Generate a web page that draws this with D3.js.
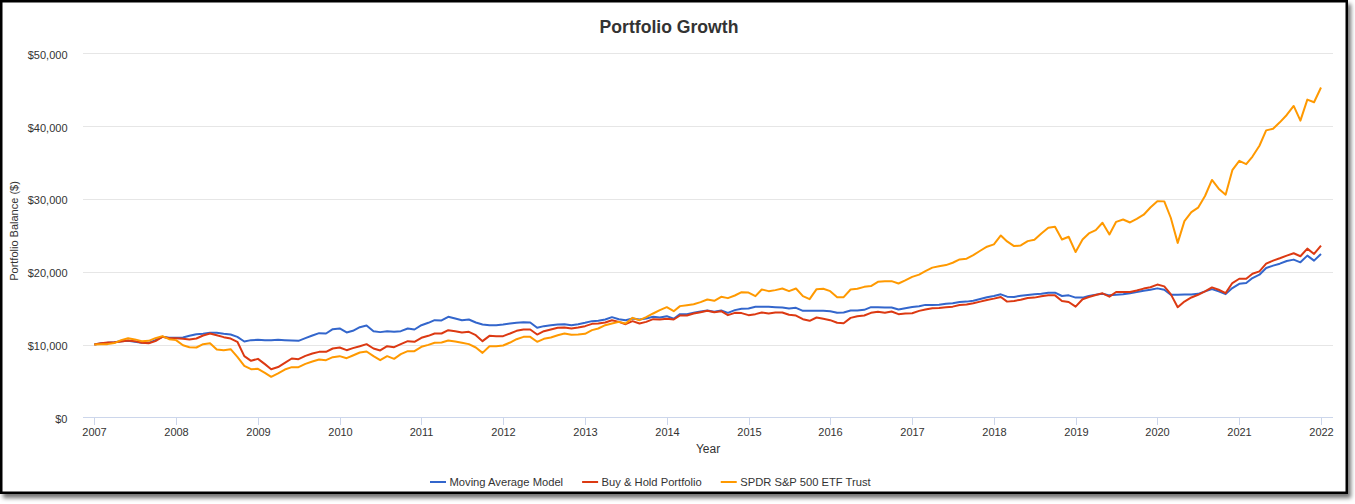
<!DOCTYPE html>
<html>
<head>
<meta charset="utf-8">
<script src="https://cdn.jsdelivr.net/npm/d3@7"></script>
<style>
  html, body { margin: 0; padding: 0; background: #ffffff; }
  svg { display: block; font-family: "Liberation Sans", Arial, sans-serif; }
</style>
</head>
<body>
<svg id="chart" width="1355" height="504"></svg>
<script>
// ---------- DATA ----------
const startDate = new Date(2007, 0, 1);
const endDate = new Date(2022, 0, 1);
const seriesNames = ["Moving Average Model", "Buy & Hold Portfolio", "SPDR S&P 500 ETF Trust"];
const seriesColors = ["#3366cc", "#dc3912", "#ff9900"];
const yTicks = [0, 10000, 20000, 30000, 40000, 50000];
const xTickYears = [2007, 2008, 2009, 2010, 2011, 2012, 2013, 2014, 2015, 2016, 2017, 2018, 2019, 2020, 2021, 2022];

// monthly values, Jan 2007 .. Jan 2022
const movingAverage = [
  10000, 10180, 10230, 10320, 10460, 10500, 10370, 10230, 10230, 10600, 11050, 10920, 10920,
  10960, 11190, 11420, 11470, 11600, 11600, 11470, 11370, 11050, 10410, 10600, 10640,
  10600, 10600, 10640, 10600, 10550, 10500, 10870, 11240, 11560, 11510, 12110, 12200,
  11650, 11880, 12380, 12610, 11830, 11700, 11830, 11740, 11830, 12200, 12060, 12650,
  12980, 13340, 13300, 13800, 13570, 13340, 13430, 13020, 12750, 12650, 12650, 12750,
  12890, 12980, 13070, 13020, 12290, 12520, 12650, 12750, 12790, 12650, 12790, 12980,
  13210, 13250, 13430, 13760, 13480, 13340, 13570, 13430, 13570, 13800, 13710, 13890,
  13530, 14170, 14170, 14350, 14530, 14670, 14490, 14670, 14350, 14720, 14900, 14950,
  15180, 15180, 15180, 15130, 15080, 14950, 15040, 14630, 14630, 14630, 14630, 14580,
  14350, 14400, 14670, 14670, 14760, 15130, 15130, 15080, 15080, 14810, 14980, 15140,
  15250, 15440, 15430, 15450, 15610, 15660, 15840, 15890, 16020, 16250, 16480, 16660,
  16890, 16570, 16530, 16710, 16800, 16890, 16980, 17120, 17120, 16660, 16750, 16440,
  16440, 16660, 16850, 16980, 16750, 16850, 16890, 17040, 17200, 17390, 17520, 17710,
  17520, 16830, 16830, 16870, 16870, 16960, 17290, 17610, 17290, 16920, 17750, 18340,
  18440, 19130, 19590, 20510, 20830, 21100, 21470, 21660, 21290, 22210, 21520, 22440
];
const buyHold = [
  10000, 10180, 10270, 10320, 10410, 10550, 10460, 10230, 10180, 10460, 11050, 10870, 10870,
  10780, 10690, 10820, 11240, 11510, 11280, 11010, 10820, 10370, 8400, 7760, 8030,
  7300, 6610, 6900, 7480, 8080, 7990, 8440, 8760, 8990, 8990, 9450, 9590,
  9220, 9500, 9770, 10050, 9450, 9180, 9770, 9630, 10050, 10460, 10370, 10920,
  11190, 11510, 11510, 11970, 11830, 11650, 11740, 11280, 10460, 11190, 11150, 11150,
  11510, 11880, 12060, 12060, 11370, 11830, 12060, 12290, 12340, 12200, 12340, 12520,
  12840, 12890, 13020, 13340, 13110, 12790, 13210, 12890, 13110, 13480, 13450, 13530,
  13430, 13980, 13980, 14260, 14440, 14630, 14440, 14580, 14030, 14350, 14310, 14030,
  14170, 14400, 14260, 14400, 14400, 14080, 13980, 13480, 13250, 13710, 13530, 13340,
  12980, 12930, 13660, 13890, 13980, 14350, 14490, 14350, 14530, 14170, 14250, 14300,
  14620, 14820, 14980, 15020, 15110, 15200, 15430, 15480, 15660, 15890, 16120, 16300,
  16530, 15890, 15980, 16160, 16390, 16440, 16620, 16750, 16750, 15980, 15840, 15200,
  16210, 16530, 16800, 17030, 16570, 17210, 17210, 17200, 17410, 17680, 17870, 18230,
  17980, 16920, 15120, 15900, 16460, 16830, 17290, 17840, 17520, 17060, 18440, 19030,
  19030, 19720, 20050, 21100, 21520, 21840, 22210, 22530, 22120, 23170, 22440, 23590
];
const spdr = [
  10000, 10050, 10050, 10200, 10600, 10870, 10700, 10460, 10500, 10870, 11150, 10730, 10600,
  9900, 9630, 9590, 10050, 10180, 9310, 9220, 9360, 8300, 7070, 6610, 6660,
  6110, 5560, 6020, 6560, 6890, 6890, 7340, 7660, 7940, 7850, 8260, 8400,
  8120, 8490, 8900, 9040, 8400, 7850, 8400, 8030, 8670, 9080, 9080, 9680,
  9950, 10230, 10270, 10550, 10410, 10230, 10050, 9590, 8850, 9770, 9770, 9860,
  10270, 10730, 11050, 11050, 10370, 10780, 10960, 11280, 11510, 11330, 11370, 11470,
  11970, 12200, 12650, 12890, 13110, 12890, 13660, 13340, 13750, 14260, 14720, 15130,
  14580, 15270, 15400, 15540, 15820, 16180, 16000, 16550, 16370, 16730, 17190, 17140,
  16640, 17560, 17330, 17470, 17690, 17330, 17690, 16640, 16230, 17600, 17650, 17330,
  16500, 16500, 17560, 17650, 17920, 18020, 18610, 18700, 18700, 18380, 18800, 19290,
  19600, 20090, 20560, 20740, 20910, 21230, 21690, 21780, 22290, 22880, 23430, 23750,
  24980, 24160, 23520, 23610, 24200, 24390, 25260, 26030, 26170, 24430, 24800, 22700,
  24430, 25260, 25710, 26720, 25110, 26850, 27170, 26760, 27260, 27830, 28820, 29670,
  29660, 27410, 23960, 26950, 28190, 28790, 30400, 32600, 31410, 30580, 33940, 35230,
  34770, 35820, 37300, 39410, 39640, 40520, 41530, 42770, 40750, 43640, 43280, 45300
];
const allSeries = [movingAverage, buyHold, spdr];

// ---------- CHART ----------
const svg = d3.select("#chart");
const months = d3.timeMonth.range(startDate, d3.timeMonth.offset(endDate, 1));

// frame with shadow
const defs = svg.append("defs");
const f = defs.append("filter").attr("id", "shadow").attr("x", "-5%").attr("y", "-5%").attr("width", "110%").attr("height", "115%");
f.append("feDropShadow").attr("dx", 3).attr("dy", 4).attr("stdDeviation", 2.2)
  .attr("flood-color", "#000").attr("flood-opacity", 0.55);
svg.append("rect").attr("x", 1.25).attr("y", 1.25).attr("width", 1345.5).attr("height", 491.5)
  .attr("fill", "#fff").attr("stroke", "#000").attr("stroke-width", 2.5).attr("filter", "url(#shadow)");

const x = d3.scaleTime().domain([startDate, endDate]).range([94.3, 1321]);
const y = d3.scaleLinear().domain([0, 50000]).range([417.3, 53.3]);
const plotLeft = 83, plotRight = 1333;

// gridlines
svg.append("g").selectAll("line").data(yTicks.filter(d => d > 0)).join("line")
  .attr("x1", plotLeft).attr("x2", plotRight)
  .attr("y1", d => Math.round(y(d)) + 0.5).attr("y2", d => Math.round(y(d)) + 0.5)
  .attr("stroke", "#e6e6e6").attr("stroke-width", 1);

// y labels
const fmt = d3.format("$,");
svg.append("g").selectAll("text").data(yTicks).join("text")
  .attr("x", 67.5).attr("y", d => y(d) + 5.5)
  .attr("text-anchor", "end").attr("font-size", 11).attr("fill", "#333")
  .text(d => fmt(d));

// x axis line
svg.append("line").attr("x1", plotLeft).attr("x2", plotRight)
  .attr("y1", 417.5).attr("y2", 417.5).attr("stroke", "#ccd6eb").attr("stroke-width", 1);

// x ticks
const xt = svg.append("g").selectAll("g").data(xTickYears).join("g")
  .attr("transform", d => `translate(${Math.round(x(new Date(d, 0, 1))) + 0.5},0)`);
xt.append("line").attr("y1", 417).attr("y2", 425).attr("stroke", "#ccd6eb");
xt.append("text").attr("y", 436).attr("text-anchor", "middle")
  .attr("font-size", 11).attr("fill", "#333").text(d => d);

// axis titles
svg.append("text").attr("x", 708).attr("y", 453).attr("text-anchor", "middle")
  .attr("font-size", 12).attr("fill", "#333").text("Year");
svg.append("text").attr("transform", "translate(18,231) rotate(-90)")
  .attr("text-anchor", "middle").attr("font-size", 11).attr("fill", "#333")
  .text("Portfolio Balance ($)");

// title
svg.append("text").attr("x", 669).attr("y", 32.5).attr("text-anchor", "middle")
  .attr("font-size", 17.6).attr("font-weight", "bold").attr("fill", "#333")
  .text("Portfolio Growth");

// lines
const line = d3.line().x((d, i) => x(months[i])).y(d => y(d));
svg.append("g").selectAll("path").data(allSeries).join("path")
  .attr("d", d => line(d))
  .attr("fill", "none")
  .attr("stroke", (d, i) => seriesColors[i])
  .attr("stroke-width", 2)
  .attr("stroke-linejoin", "round");

// legend
const legend = svg.append("g");
let lx = 430;
seriesNames.forEach((name, i) => {
  const g = legend.append("g").attr("transform", `translate(${lx},0)`);
  g.append("line").attr("x1", 0).attr("x2", 16).attr("y1", 482).attr("y2", 482)
    .attr("stroke", seriesColors[i]).attr("stroke-width", 2);
  const t = g.append("text").attr("x", 19.5).attr("y", 486).attr("font-size", 11.2)
    .attr("fill", "#333").text(name);
  const w = t.node().getComputedTextLength();
  lx += 19.5 + w + 19;
});
</script>
</body>
</html>
